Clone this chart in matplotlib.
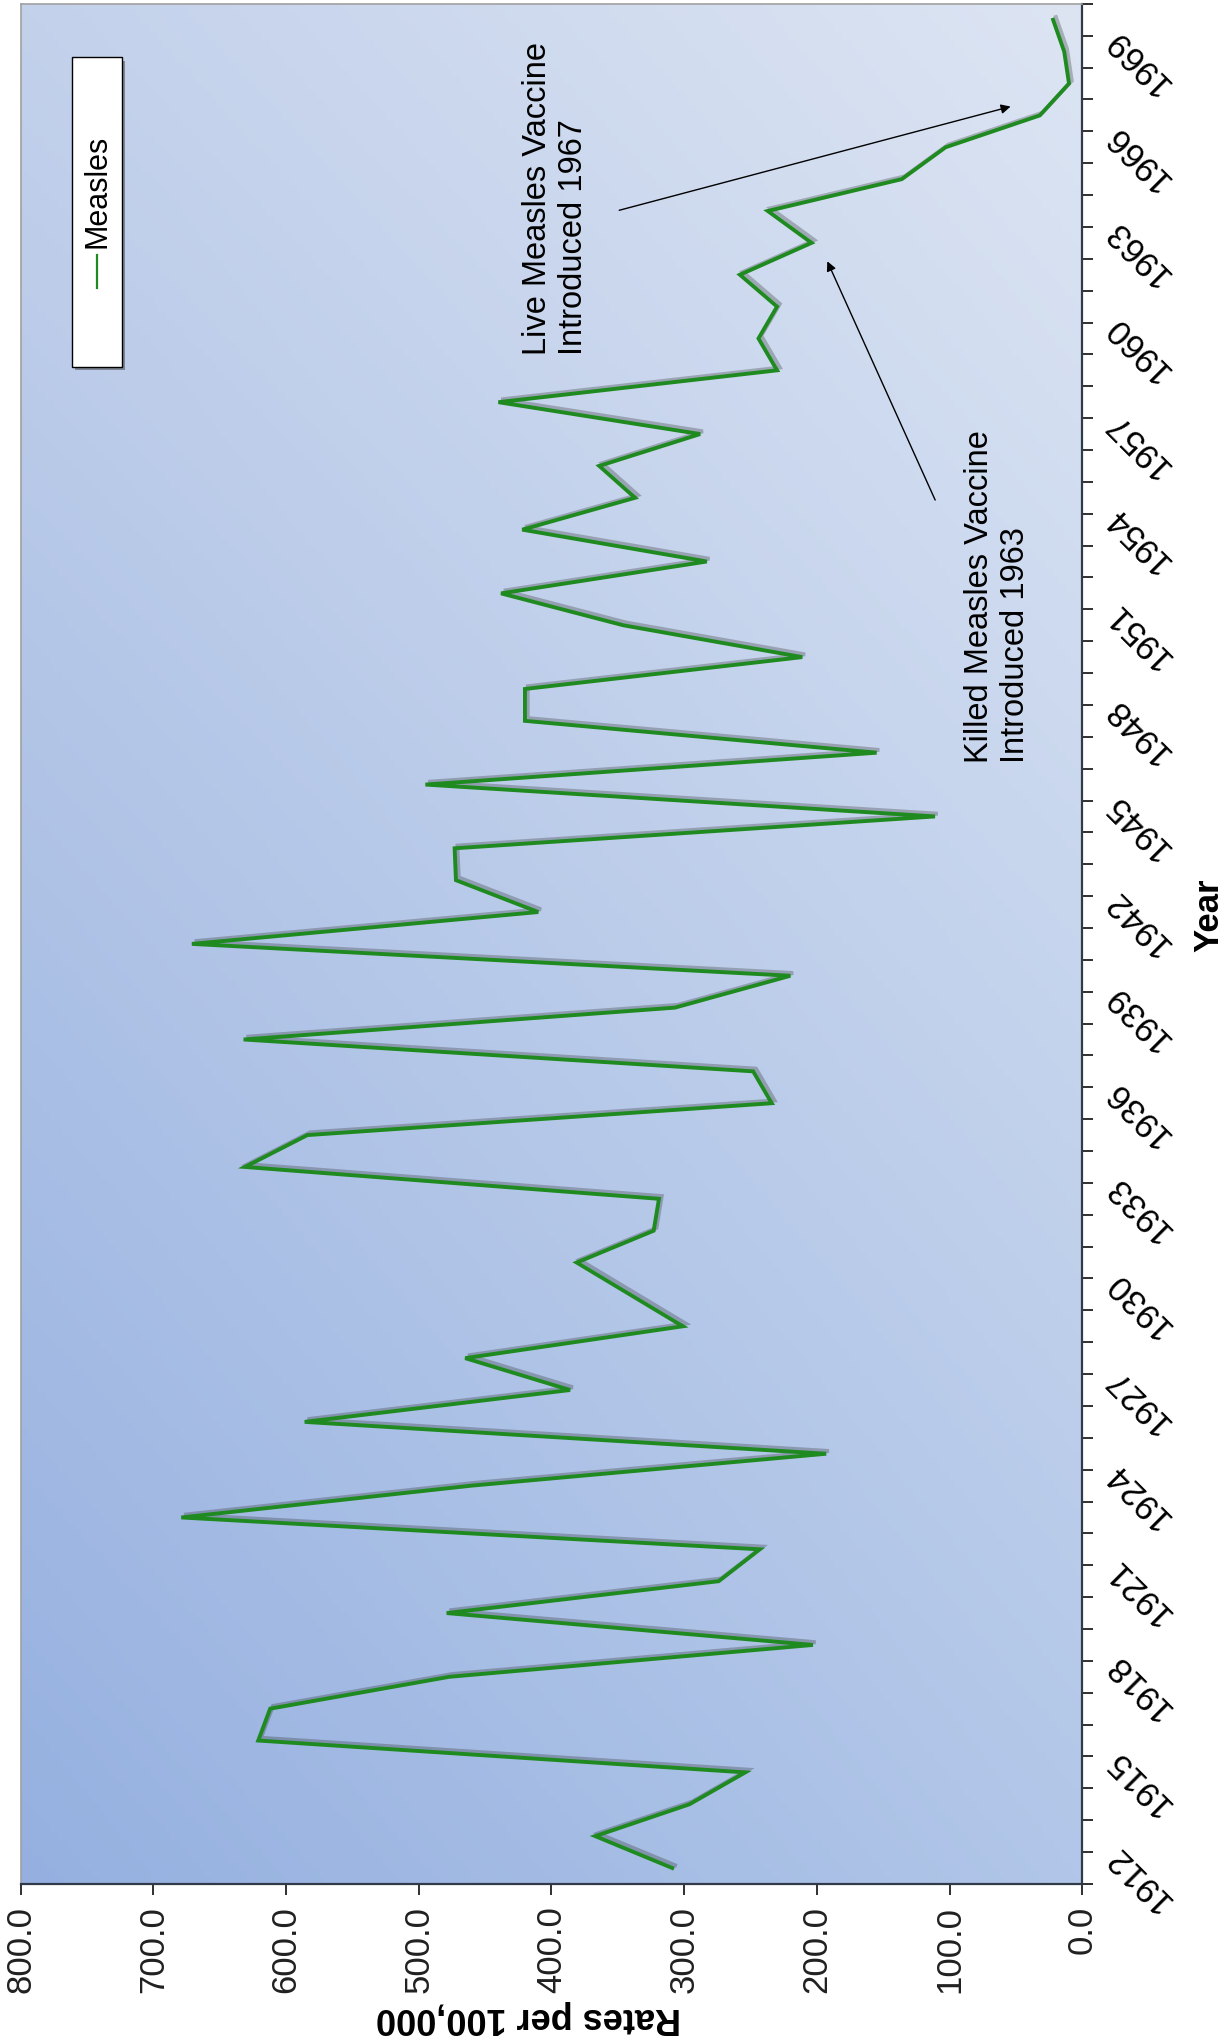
import numpy as np
import matplotlib
matplotlib.use("Agg")
import matplotlib.pyplot as plt
import matplotlib.colors as mcolors
import matplotlib.patheffects as pe
from matplotlib.patches import Rectangle
from matplotlib.lines import Line2D
from matplotlib.transforms import ScaledTranslation

plt.rcParams['font.family'] = ['Liberation Sans', 'DejaVu Sans']

# Measles rates per 100,000, 1912-1970
years = list(range(1912, 1971))
rates = [309, 367, 296, 254, 621, 612, 477, 203, 479, 274,
         243, 679, 460, 193, 586, 386, 465, 301, 341, 381,
         323, 319, 631, 584, 234, 248, 632, 307, 220, 671,
         410, 472, 473, 111, 495, 155, 420, 420, 211, 346,
         438, 283, 422, 337, 364, 288, 440, 230, 244, 230,
         258, 204, 237, 136, 103, 32, 10, 13.6, 22]
year_labels = list(range(1912, 1970, 3))
rate_ticks = [0, 100, 200, 300, 400, 500, 600, 700, 800]

fig = plt.figure(figsize=(12.25, 20.38), dpi=100)
ax = fig.add_axes([0.0169, 0.0756, 0.8666, 0.9225])

# gradient background of the plot area
bl, tl, br, tr = [np.array(mcolors.to_rgb(c)) for c in ("#95b0e0", "#c3d1eb", "#b1c6e8", "#dde5f3")]
g = np.linspace(0, 1, 256)
U, V = np.meshgrid(g, g)
U = U[..., None]
V = V[..., None]
img = bl * (1 - U) * (1 - V) + br * U * (1 - V) + tl * (1 - U) * V + tr * U * V
ax.imshow(img, extent=[0, 1, 0, 1], transform=ax.transAxes, origin="lower",
          aspect="auto", zorder=0)

ax.plot(rates, years, color="#1f8a1f", lw=2.8, zorder=3, solid_joinstyle="miter",
        path_effects=[pe.SimpleLineShadow(offset=(2, 2), shadow_color="#303030", alpha=0.3),
                      pe.Normal()])

ax.set_xlim(800, 0)
ax.set_ylim(1911.5, 1970.5)

# value axis at the bottom
ax.set_xticks(rate_ticks)
ax.set_xticklabels(["%.1f" % v for v in rate_ticks], rotation=90, fontsize=25)
ax.tick_params(axis="x", length=8, width=1.3, direction="out", pad=8, colors="#202020")

# year axis on the right: ticks between categories, labels at categories
ax.yaxis.tick_right()
ax.set_yticks(np.arange(1911.5, 1971, 1))
ax.set_yticks(year_labels, minor=True)
ax.set_yticklabels([], minor=False)
ax.set_yticklabels([str(y) for y in year_labels], minor=True, fontsize=25)
ax.tick_params(axis="y", which="major", length=8, width=1.3, direction="out",
               right=True, left=False, colors="#202020")
ax.tick_params(axis="y", which="minor", length=0, right=True, left=False,
               labelright=True, labelleft=False, pad=40)
shift = ScaledTranslation(0, -0.1, fig.dpi_scale_trans)
for lab in ax.get_yticklabels(minor=True):
    lab.set_rotation(135)
    lab.set_ha("center")
    lab.set_va("center")
    lab.set_transform(lab.get_transform() + shift)

for s in ("top", "left"):
    ax.spines[s].set_color("#a0a0a0")
    ax.spines[s].set_linewidth(1.2)
for s in ("right", "bottom"):
    ax.spines[s].set_color("#303a48")
    ax.spines[s].set_linewidth(1.6)

ax.text(0.478, -0.071, "Rates per 100,000", transform=ax.transAxes, rotation=180,
        ha="center", va="center", fontsize=26, fontweight="bold")
ax.text(1.119, 0.515, "Year", transform=ax.transAxes, rotation=90,
        ha="center", va="center", fontsize=25, fontweight="bold")

# annotations
ax.text(397, 1964.4, "Live Measles Vaccine\nIntroduced 1967", rotation=90,
        ha="center", va="center", multialignment="left", fontsize=23.5, zorder=4)
ax.annotate("", xy=(52, 1967.3), xytext=(351, 1964.0),
            arrowprops=dict(arrowstyle="-|>", color="black", lw=1.0, mutation_scale=14),
            zorder=4)
ax.text(64, 1951.9, "Killed Measles Vaccine\nIntroduced 1963", rotation=90,
        ha="center", va="center", multialignment="left", fontsize=23.5, zorder=4)
ax.annotate("", xy=(193, 1962.5), xytext=(110, 1954.85),
            arrowprops=dict(arrowstyle="-|>", color="black", lw=1.0, mutation_scale=14),
            zorder=4)

# legend box (rotated like the rest of the chart)
ax.add_patch(Rectangle((0.0513, 0.8050), 0.0471, 0.1648, transform=ax.transAxes,
                       facecolor="#404040", edgecolor="none", alpha=0.5, zorder=5))
ax.add_patch(Rectangle((0.0483, 0.8070), 0.0471, 0.1648, transform=ax.transAxes,
                       facecolor="white", edgecolor="black", lw=1.0, zorder=6))
ax.add_line(Line2D([0.0719, 0.0719], [0.8489, 0.8665], transform=ax.transAxes,
                   color="#1f8a1f", lw=1.6, zorder=7))
ax.text(0.0719, 0.9003, "Measles", transform=ax.transAxes, rotation=90,
        ha="center", va="center", fontsize=22, zorder=7)

fig.savefig("out.png", dpi=100, facecolor="white")
